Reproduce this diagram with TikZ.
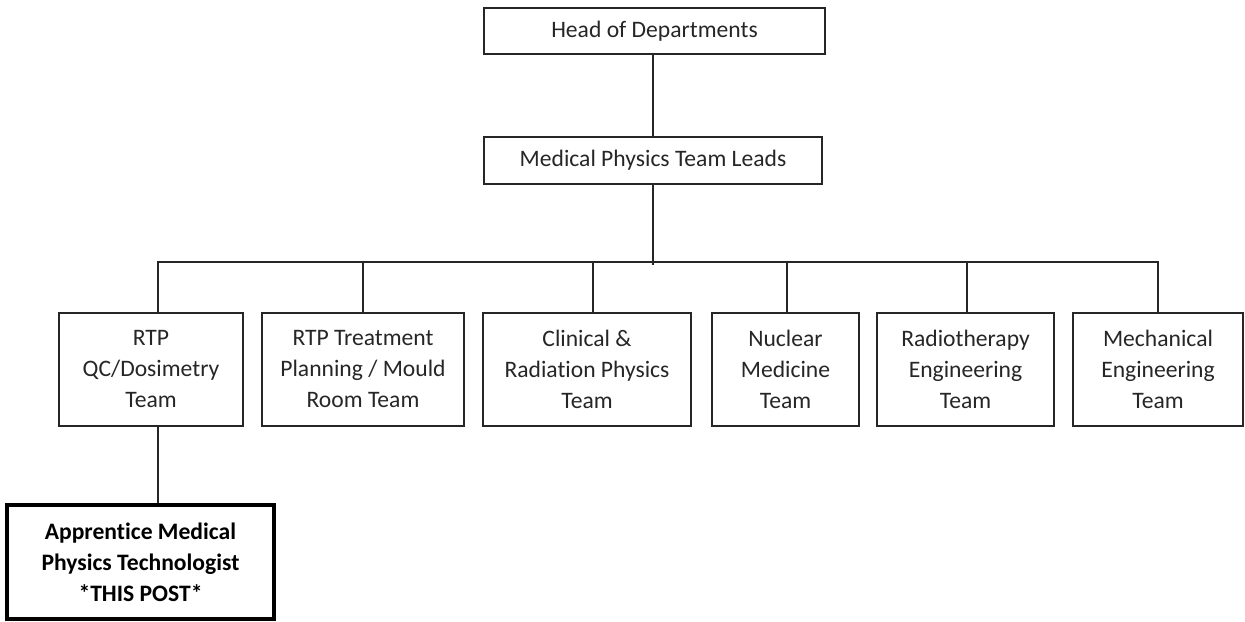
\documentclass[tikz,border=0pt]{standalone}
\usepackage{fontspec}
\setmainfont{Carlito}[Ligatures=CommonOff]
\usetikzlibrary{positioning}

\begin{document}
\begin{tikzpicture}[x=0.75pt, y=-0.75pt, line width=1pt, b/.style 2 args={draw=black!85, align=center, text=black!85, minimum width=#1*0.75pt, minimum height=#2*0.75pt, inner sep=0pt}, font=\fontsize{17.7}{23.25}\selectfont]
\useasboundingbox (0,0) rectangle (1245,621);
\node[b={341}{46}] (head) at (654.5,31) {Head of Departments}; \node[b={338}{47}] (lead) at (653,160.5) {Medical Physics Team Leads};
\coordinate (bus) at (653,262);
\node[b={184}{113}] (t1) at (151,369.5) {RTP\\QC/Dosimetry\\Team}; \node[b={202}{113}] (t2) at (363,369.5) {RTP Treatment\\Planning / Mould\\Room Team};
\node[b={208}{113}] (t3) at (587,369.5) {Clinical \&\\Radiation Physics\\Team}; \node[b={147}{113}] (t4) at (785.5,369.5) {Nuclear\\Medicine\\Team};
\node[b={177}{113}] (t5) at (965.5,369.5) {Radiotherapy\\Engineering\\Team}; \node[b={170}{113}] (t6) at (1158,369.5) {Mechanical\\Engineering\\Team};
\node[b={267}{114}, draw=black, text=black, line width=3pt, font=\fontsize{17.7}{23.25}\selectfont\bfseries] (post) at (140.5,562) {Apprentice Medical\\Physics Technologist\\*THIS POST*};
\draw[black!85] (lead.north) -- (lead.north |- head.south); \draw[black!85] (lead) -- ([yshift=-2pt]bus);
\foreach \n/\d in {t1/7, t2/0, t3/6, t4/1.5, t5/1.5, t6/0} \draw[black!85] ([xshift=\d*0.75pt]\n.north) |- (bus);
\draw[black!85] ([xshift=5.25pt]t1.south) -- ([xshift=5.25pt]t1.south |- post.north);
\end{tikzpicture}
\end{document}
